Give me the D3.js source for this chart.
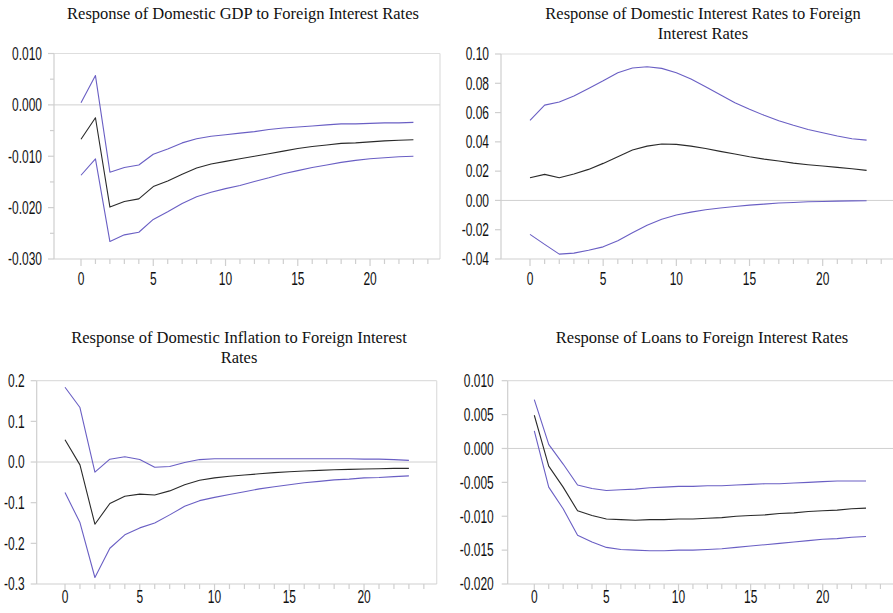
<!DOCTYPE html>
<html><head><meta charset="utf-8">
<script src="https://cdn.jsdelivr.net/npm/d3@7"></script>
<style>body{margin:0;background:#fff} svg{display:block}</style>
</head><body><svg id="c" width="893" height="613"></svg>
<script>
// ---------- DATA ----------
const periods = d3.range(0, 24);
const xTickValues = [0, 5, 10, 15, 20];
const xTickLabels = ["0", "5", "10", "15", "20"];

const gdpMid = [-0.0067,-0.0025,-0.0199,-0.0188,-0.0183,-0.0159,-0.0148,-0.0135,-0.0123,-0.0115,-0.0110,-0.0105,-0.0100,-0.0095,-0.0090,-0.0085,-0.0081,-0.0078,-0.0075,-0.0074,-0.0072,-0.0070,-0.0069,-0.0068];
const gdpUp  = [0.0004,0.0057,-0.0131,-0.0122,-0.0117,-0.0096,-0.0086,-0.0074,-0.0066,-0.0061,-0.0058,-0.0055,-0.0052,-0.0048,-0.0045,-0.0043,-0.0041,-0.0039,-0.0037,-0.0037,-0.0036,-0.0035,-0.0035,-0.0034];
const gdpLo  = [-0.0137,-0.0105,-0.0266,-0.0253,-0.0248,-0.0223,-0.0208,-0.0192,-0.0179,-0.0170,-0.0163,-0.0157,-0.0149,-0.0142,-0.0134,-0.0128,-0.0122,-0.0117,-0.0112,-0.0108,-0.0105,-0.0103,-0.0101,-0.0100];
const gdpTickValues = [0.010, 0.000, -0.010, -0.020, -0.030];
const gdpTickLabels = ["0.010", "0.000", "-0.010", "-0.020", "-0.030"];
const gdpMinorTicks = [0.005, -0.005, -0.015, -0.025];

const rateMid = [0.0155,0.0178,0.0155,0.0180,0.0212,0.0253,0.0298,0.0344,0.0371,0.0385,0.0383,0.0371,0.0355,0.0335,0.0317,0.0298,0.0282,0.0269,0.0255,0.0244,0.0235,0.0226,0.0216,0.0205];
const rateUp  = [0.0547,0.0651,0.0672,0.0713,0.0765,0.0817,0.0872,0.0904,0.0913,0.0902,0.0872,0.0829,0.0777,0.0722,0.0667,0.0622,0.0581,0.0544,0.0513,0.0485,0.0462,0.0440,0.0421,0.0412];
const rateLo  = [-0.0232,-0.0300,-0.0367,-0.0360,-0.0340,-0.0317,-0.0276,-0.0221,-0.0169,-0.0128,-0.0100,-0.0080,-0.0064,-0.0052,-0.0041,-0.0032,-0.0025,-0.0018,-0.0014,-0.0009,-0.0007,-0.0005,-0.0003,-0.0002];
const rateTickValues = [0.10, 0.08, 0.06, 0.04, 0.02, 0.00, -0.02, -0.04];
const rateTickLabels = ["0.10", "0.08", "0.06", "0.04", "0.02", "0.00", "-0.02", "-0.04"];

const inflMid = [0.055,-0.007,-0.153,-0.102,-0.084,-0.079,-0.081,-0.071,-0.056,-0.045,-0.039,-0.035,-0.032,-0.029,-0.026,-0.024,-0.022,-0.0205,-0.019,-0.018,-0.017,-0.0164,-0.0156,-0.0156];
const inflUp  = [0.184,0.134,-0.025,0.007,0.013,0.006,-0.013,-0.011,-0.001,0.006,0.008,0.008,0.008,0.008,0.008,0.008,0.008,0.008,0.008,0.008,0.007,0.007,0.006,0.004];
const inflLo  = [-0.075,-0.149,-0.284,-0.212,-0.179,-0.162,-0.150,-0.130,-0.109,-0.095,-0.087,-0.080,-0.073,-0.066,-0.061,-0.056,-0.051,-0.0475,-0.044,-0.042,-0.039,-0.038,-0.036,-0.034];
const inflTickValues = [0.2, 0.1, 0.0, -0.1, -0.2, -0.3];
const inflTickLabels = ["0.2", "0.1", "0.0", "-0.1", "-0.2", "-0.3"];

const loanMid = [0.0049,-0.0026,-0.0057,-0.0092,-0.0099,-0.0104,-0.0105,-0.0106,-0.0105,-0.0105,-0.0104,-0.0104,-0.0103,-0.0102,-0.0100,-0.0099,-0.0098,-0.0096,-0.0095,-0.0093,-0.0092,-0.0091,-0.0089,-0.0088];
const loanUp  = [0.0072,0.0006,-0.0023,-0.0054,-0.0059,-0.0062,-0.0061,-0.0060,-0.0058,-0.0057,-0.0056,-0.0056,-0.0055,-0.0055,-0.0054,-0.0053,-0.0052,-0.0052,-0.0051,-0.0050,-0.0049,-0.0048,-0.0048,-0.0048];
const loanLo  = [0.0026,-0.0057,-0.0089,-0.0128,-0.0138,-0.0146,-0.0149,-0.0150,-0.0151,-0.0151,-0.0150,-0.0150,-0.0149,-0.0148,-0.0146,-0.0144,-0.0142,-0.0140,-0.0138,-0.0136,-0.0134,-0.0133,-0.0131,-0.0130];
const loanTickValues = [0.010, 0.005, 0.000, -0.005, -0.010, -0.015, -0.020];
const loanTickLabels = ["0.010", "0.005", "0.000", "-0.005", "-0.010", "-0.015", "-0.020"];

// ---------- PANELS (layout) ----------
const panels = [
  { title: ["Response of Domestic GDP to Foreign Interest Rates"], tx: 243, ty: 18.5,
    mid: gdpMid, up: gdpUp, lo: gdpLo, ticks: gdpTickValues, labels: gdpTickLabels, minor: gdpMinorTicks,
    ydom: [-0.03, 0.01], left: 54, right: 440, top: 53.5, bottom: 259, x0: 81, x23: 413.4, labGap: 12, xlabY: 285 },
  { title: ["Response of Domestic Interest Rates to Foreign", "Interest Rates"], tx: 703, ty: 18.5,
    mid: rateMid, up: rateUp, lo: rateLo, ticks: rateTickValues, labels: rateTickLabels, minor: [],
    ydom: [-0.04, 0.10], left: 501, right: 900, top: 54, bottom: 259, x0: 530, x23: 866.6, labGap: 12, xlabY: 285 },
  { title: ["Response of Domestic Inflation to Foreign Interest", "Rates"], tx: 239, ty: 343,
    mid: inflMid, up: inflUp, lo: inflLo, ticks: inflTickValues, labels: inflTickLabels, minor: [],
    ydom: [-0.3, 0.2], left: 36.7, right: 436.7, top: 380.7, bottom: 584, x0: 65, x23: 408.9, labGap: 12, xlabY: 603 },
  { title: ["Response of Loans to Foreign Interest Rates"], tx: 702, ty: 343,
    mid: loanMid, up: loanUp, lo: loanLo, ticks: loanTickValues, labels: loanTickLabels, minor: [],
    ydom: [-0.02, 0.01], left: 507.7, right: 900, top: 380.7, bottom: 584, x0: 534.3, x23: 866, labGap: 14, xlabY: 603 }
];

const svg = d3.select("#c");
const NUM_FONT = '"Liberation Sans Narrow", "Arial Narrow", "Liberation Sans", Arial, sans-serif';
const NUM_SIZE = 17.5;
const cvs = document.createElement("canvas").getContext("2d");
cvs.font = NUM_SIZE + "px " + NUM_FONT;
const sx = 23.3 / cvs.measureText("0.10").width;

const blue = "#6a5fc4", black = "#2a2a2a";
const frameCol = "#dedede", axisCol = "#cfcfcf";

panels.forEach(p => {
  const x = d3.scaleLinear().domain([0, 23]).range([p.x0, p.x23]);
  const y = d3.scaleLinear().domain(p.ydom).range([p.bottom, p.top]);
  const g = svg.append("g");

  g.append("line").attr("x1", p.left).attr("x2", p.right).attr("y1", p.top).attr("y2", p.top)
    .attr("stroke", frameCol).attr("stroke-width", 1.2);
  g.append("line").attr("x1", p.right).attr("x2", p.right).attr("y1", p.top).attr("y2", p.bottom)
    .attr("stroke", frameCol).attr("stroke-width", 1.2);
  g.append("line").attr("x1", p.left).attr("x2", p.right).attr("y1", y(0)).attr("y2", y(0))
    .attr("stroke", "#d0d0d0").attr("stroke-width", 1);

  g.append("line").attr("x1", p.left).attr("x2", p.left).attr("y1", p.top).attr("y2", p.bottom)
    .attr("stroke", axisCol).attr("stroke-width", 1.2);
  g.selectAll(".yt").data(p.ticks).enter().append("line")
    .attr("x1", p.left - 6).attr("x2", p.left).attr("y1", d => y(d)).attr("y2", d => y(d))
    .attr("stroke", axisCol).attr("stroke-width", 1.2);
  g.selectAll(".ym").data(p.minor).enter().append("line")
    .attr("x1", p.left - 4).attr("x2", p.left).attr("y1", d => y(d)).attr("y2", d => y(d))
    .attr("stroke", axisCol).attr("stroke-width", 1.2);
  p.ticks.forEach((v, i) => {
    g.append("text")
      .attr("transform", `translate(${p.left - p.labGap},${y(v)}) scale(${sx},1)`)
      .attr("text-anchor", "end").attr("dy", "0.36em")
      .attr("font-family", NUM_FONT).attr("font-size", NUM_SIZE).attr("fill", "#111")
      .text(p.labels[i]);
  });

  g.append("line").attr("x1", p.left).attr("x2", p.right).attr("y1", p.bottom).attr("y2", p.bottom)
    .attr("stroke", axisCol).attr("stroke-width", 1.2);
  const xt = d3.range(0, 25);
  g.selectAll(".xt").data(xt).enter().append("line")
    .attr("x1", d => x(d)).attr("x2", d => x(d))
    .attr("y1", p.bottom).attr("y2", d => p.bottom + (d % 5 === 0 ? 7 : 5))
    .attr("stroke", axisCol).attr("stroke-width", 1.2);
  xTickValues.forEach((v, i) => {
    g.append("text")
      .attr("transform", `translate(${x(v)},${p.xlabY}) scale(${sx},1)`)
      .attr("text-anchor", "middle")
      .attr("font-family", NUM_FONT).attr("font-size", NUM_SIZE).attr("fill", "#111")
      .text(xTickLabels[i]);
  });

  const line = d3.line().x((d, i) => x(periods[i])).y(d => y(d));
  [[p.up, blue], [p.lo, blue], [p.mid, black]].forEach(([arr, col]) => {
    g.append("path").attr("d", line(arr)).attr("fill", "none")
      .attr("stroke", col).attr("stroke-width", 1.1).attr("stroke-linejoin", "round");
  });

  p.title.forEach((t, i) => {
    g.append("text").attr("x", p.tx).attr("y", p.ty + i * 20).attr("text-anchor", "middle")
      .attr("font-family", '"Liberation Serif", "Times New Roman", serif').attr("font-size", 16.5)
      .attr("fill", "#111").text(t);
  });
});
</script></body></html>
